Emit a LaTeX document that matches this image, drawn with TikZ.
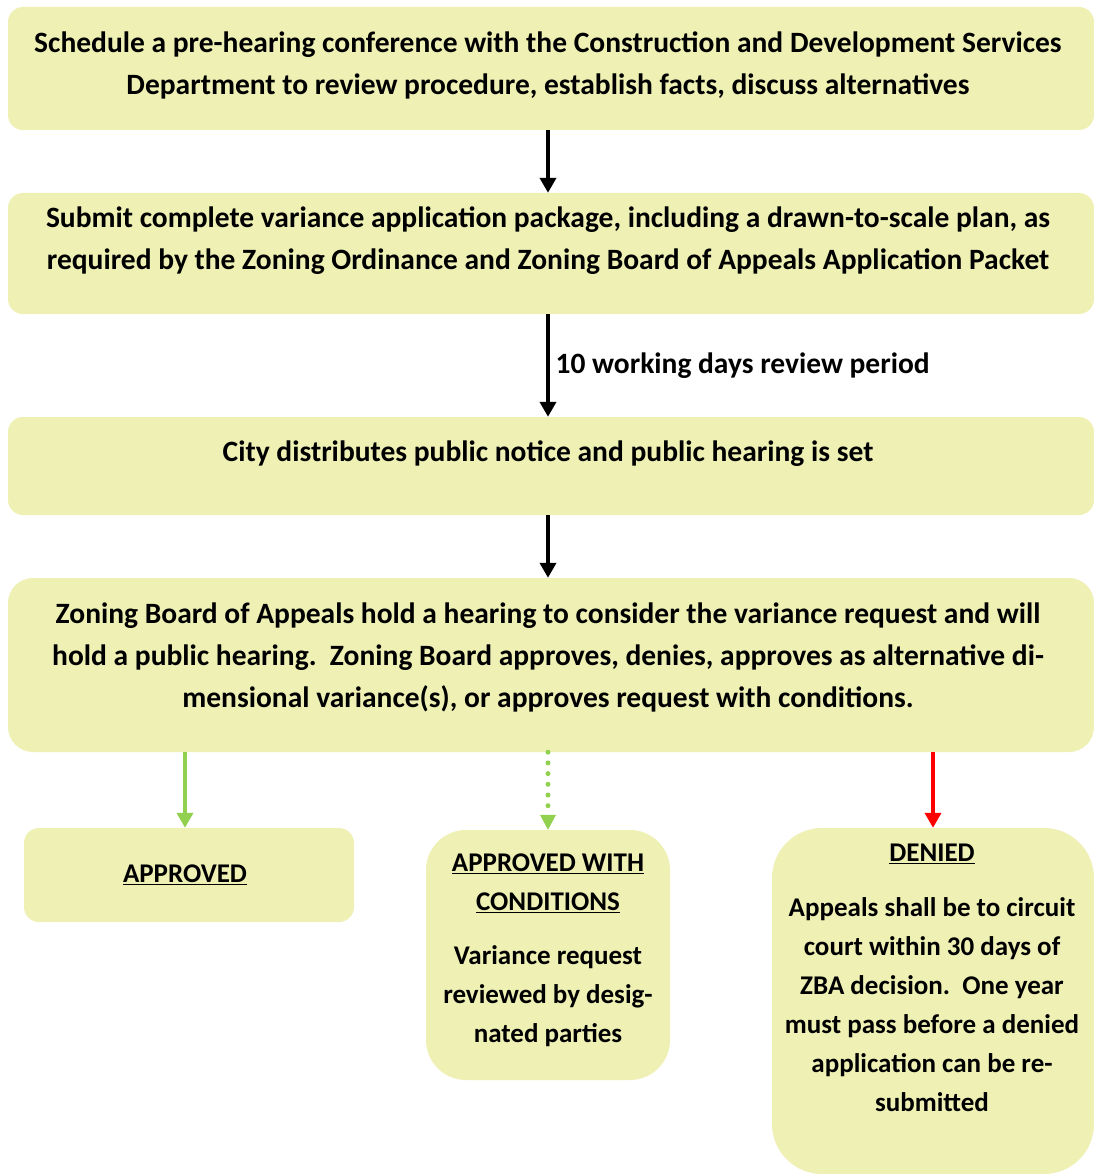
\documentclass[tikz,border=0pt]{standalone}
\usepackage{fontspec}
\setmainfont{Carlito}
\usetikzlibrary{arrows.meta}
\definecolor{boxfill}{RGB}{238,240,180}
\definecolor{okgreen}{RGB}{146,208,80}
\definecolor{nored}{RGB}{255,0,0}
\begin{document}
\begin{tikzpicture}[x=1pt,y=-1pt,
        stepbox/.style={fill=boxfill, rounded corners=15pt, inner sep=0pt},
        steptext/.style={font=\bfseries\fontsize{29.5}{42}\selectfont, align=center},
        smalltext/.style={font=\bfseries\fontsize{27}{39}\selectfont, align=center},
        flow/.style={line width=4.5pt, -{Triangle[width=16pt,length=15pt]}}]
        \useasboundingbox (0,0) rectangle (1093,1174);

        % boxes
        \node[stepbox, minimum width=1086pt, minimum height=123pt] (schedule) at (551,68.5) {};
        \node[stepbox, minimum width=1086pt, minimum height=121pt] (submit) at (551,253.5) {};
        \node[stepbox, minimum width=1086pt, minimum height=98pt] (notice) at (551,466) {};
        \node[stepbox, rounded corners=25pt, minimum width=1086pt, minimum height=174pt] (hearing) at (551,665) {};
        \node[stepbox, minimum width=330pt, minimum height=94pt] (approved) at (189,875) {};
        \node[stepbox, rounded corners=40pt, minimum width=244pt, minimum height=250pt] (conditions) at (548,955) {};
        \node[stepbox, rounded corners=50pt, minimum width=322pt, minimum height=346pt] (denied) at (933,1001) {};

        % texts
        \node[steptext] (scheduletext) at (548,65) {Schedule a pre-hearing conference with the Construction and Development Services\\
            Department to review procedure, establish facts, discuss alternatives};
        \node[steptext] (submittext) at (548,241) {Submit complete variance application package, including a drawn-to-scale plan, as\\
            required by the Zoning Ordinance and Zoning Board of Appeals Application Packet};
        \node[steptext] (noticetext) at (548,454) {City distributes public notice and public hearing is set};
        \node[steptext] (hearingtext) at (548,657) {Zoning Board of Appeals hold a hearing to consider the variance request and will\\
            hold a public hearing.\ \ Zoning Board approves, denies, approves as alternative di-\\
            mensional variance(s), or approves request with conditions.};
        \node[smalltext] (approvedtext) at (185,875) {\underline{APPROVED}};
        \node[smalltext] (conditionstext) at (548,950.5) {\underline{APPROVED WITH}\\ \underline{CONDITIONS}\\[15pt]
            Variance request\\ reviewed by desig-\\ nated parties};
        \node[smalltext] (deniedtext) at (932,978) {\underline{DENIED}\\[16pt]
            Appeals shall be to circuit\\ court within 30 days of\\ ZBA decision.\ \ One year\\
            must pass before a denied\\ application can be re-\\ submitted};

        % arrows
        \draw[flow] ([xshift=-3pt]schedule.south) -- ([xshift=-3pt]submit.north);
        \draw[flow] ([xshift=-3pt]submit.south) -- node[steptext, right, xshift=2pt] (reviewlabel) {10 working days review period} ([xshift=-3pt]notice.north);
        \draw[flow] ([xshift=-3pt]notice.south) -- ([xshift=-3pt]hearing.north);
        \draw[flow, okgreen] ([xshift=-4pt]approved.north |- hearing.south) -- ([xshift=-4pt]approved.north);
        \draw[flow, okgreen, line width=5pt, line cap=round, dash pattern=on 0pt off 10.7pt,
            -{Triangle[width=16pt,length=15pt,line width=0pt]}] (conditions.north |- hearing.south) -- (conditions);
        \draw[flow, nored] (denied.north |- hearing.south) -- (denied);
    \end{tikzpicture}
\end{document}
